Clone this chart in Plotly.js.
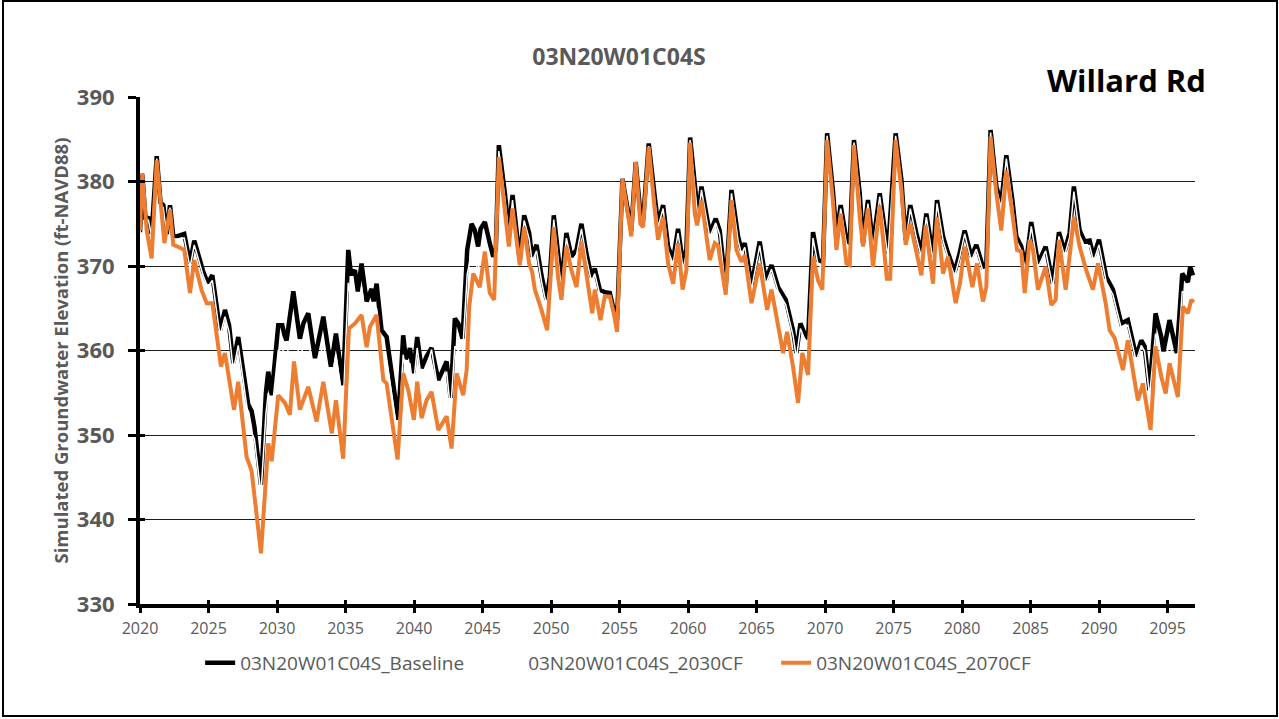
<!DOCTYPE html>
<html>
<head>
<meta charset="utf-8">
<script src="https://cdn.plot.ly/plotly-3.0.1.min.js"></script>
<style>
  html, body { margin: 0; padding: 0; background: #fff; overflow: hidden; }
  #wrap { position: relative; width: 1279px; height: 719px; }
  #chart { width: 1279px; height: 719px; }
  #frame { position: absolute; left: 2px; top: 0px; width: 1276px; height: 717px; border: 2px solid #000; box-sizing: border-box; pointer-events: none; }
</style>
</head>
<body>
<div id="wrap"><div id="chart"></div><div id="frame"></div></div>
<script>
// ---- Data ----
const seriesNames = ["03N20W01C04S_Baseline", "03N20W01C04S_2030CF", "03N20W01C04S_2070CF"];

const baseYears = [2020.00,2020.17,2020.40,2020.61,2020.85,2021.22,2021.50,2021.70,2021.95,2022.19,2022.43,2022.68,2023.23,2023.65,2023.96,2024.30,2024.62,2024.94,2025.28,2025.84,2026.20,2026.50,2026.81,2027.17,2027.90,2028.15,2028.35,2028.83,2029.19,2029.36,2029.61,2030.09,2030.38,2030.55,2030.70,2031.19,2031.67,2031.92,2032.28,2032.77,2033.38,2033.93,2034.30,2034.83,2035.20,2035.40,2035.69,2035.90,2036.17,2036.54,2036.90,2037.05,2037.27,2037.63,2038.00,2038.85,2039.21,2039.40,2039.58,2039.70,2039.94,2040.23,2040.55,2040.91,2041.28,2041.77,2042.13,2042.38,2042.67,2042.98,2043.23,2043.54,2043.88,2044.20,2044.44,2044.68,2044.86,2045.17,2045.53,2045.78,2045.97,2046.19,2046.63,2046.92,2047.19,2047.48,2047.72,2048.04,2048.40,2048.62,2048.94,2049.30,2049.67,2049.91,2050.20,2050.51,2050.76,2051.12,2051.49,2051.86,2052.22,2052.58,2052.95,2053.19,2053.56,2053.92,2054.29,2054.58,2054.82,2055.21,2055.62,2055.86,2056.18,2056.52,2056.72,2057.13,2057.57,2057.81,2058.18,2058.54,2058.91,2059.27,2059.64,2059.88,2060.15,2060.56,2060.73,2060.98,2061.58,2062.02,2062.31,2062.75,2063.17,2063.65,2063.90,2064.14,2064.63,2065.23,2065.67,2066.09,2066.57,2067.13,2067.66,2067.91,2068.20,2068.50,2068.76,2069.12,2069.49,2069.85,2070.15,2070.58,2070.83,2071.14,2071.56,2071.80,2072.11,2072.53,2072.77,2073.13,2073.50,2073.99,2074.59,2075.15,2075.57,2075.88,2076.22,2076.66,2077.03,2077.39,2077.88,2078.17,2078.61,2078.90,2079.46,2079.82,2080.19,2080.67,2081.04,2081.52,2081.77,2082.08,2082.50,2082.86,2083.23,2083.67,2083.96,2084.32,2084.64,2085.05,2085.54,2086.10,2086.63,2087.07,2087.48,2087.85,2088.16,2088.58,2088.94,2089.31,2089.60,2089.99,2090.52,2091.01,2091.62,2092.10,2092.71,2093.08,2093.32,2093.68,2094.12,2094.54,2094.70,2095.14,2095.67,2096.07,2096.48,2096.65,2096.85];

const baselineValues = [374.0,380.8,375.5,375.8,373.8,383.0,377.5,377.2,373.8,377.2,373.5,373.5,373.8,370.3,373.0,371.0,369.3,368.0,368.9,362.4,364.8,363.0,358.5,361.6,353.6,352.8,351.0,344.1,355.0,357.5,354.7,363.0,363.0,361.8,361.2,367.0,361.4,363.2,364.4,359.1,364.0,358.1,362.0,355.9,371.9,369.0,369.5,367.0,370.3,365.8,367.3,365.8,367.9,362.4,361.6,351.8,361.8,359.0,359.5,360.3,357.3,361.6,357.9,359.3,360.3,356.5,357.7,358.7,354.4,363.8,363.2,361.4,371.9,375.0,374.2,372.3,374.4,375.2,372.7,371.1,372.0,384.3,378.6,374.2,378.4,373.5,370.7,376.0,373.9,371.1,372.5,368.9,366.0,368.7,376.0,371.5,367.9,373.9,371.1,371.9,375.0,371.5,368.7,369.7,367.2,366.9,366.8,364.8,363.6,380.3,376.6,374.2,382.3,376.2,375.4,384.5,378.2,375.0,377.2,372.3,370.7,374.4,370.1,372.0,385.2,378.6,375.8,379.4,373.9,375.6,374.2,367.5,379.0,373.5,371.9,372.7,367.7,372.9,368.3,370.1,367.5,366.0,362.4,359.7,363.2,362.0,361.4,374.0,370.7,370.5,385.7,378.8,373.5,377.2,373.1,372.7,384.9,378.6,372.7,377.8,372.5,378.6,371.5,385.7,380.2,373.1,377.2,373.9,371.5,376.2,371.1,377.8,373.5,371.9,369.3,371.5,374.2,371.1,372.5,369.9,370.0,386.1,379.4,377.4,383.1,377.8,373.5,372.3,369.9,375.2,370.3,372.3,367.9,374.0,371.7,373.9,379.4,374.2,372.9,373.0,371.1,373.1,368.7,367.2,363.2,363.6,359.3,361.2,360.5,355.3,364.4,361.6,359.9,363.6,359.7,369.1,368.1,369.9,368.9];

const cf2030Values = [373.7,380.5,375.2,375.5,373.5,382.7,377.2,376.9,373.5,376.9,373.2,373.2,373.3,369.8,372.5,370.5,368.8,367.5,368.3,361.7,364.0,362.2,357.6,360.6,352.2,350.3,349.5,343.0,352.5,355.0,352.5,360.0,360.2,359.6,359.4,362.5,359.2,360.4,361.0,357.0,360.8,356.0,359.5,353.5,368.0,366.0,366.5,364.5,367.5,363.0,364.5,363.2,365.0,359.5,358.8,349.5,359.5,357.5,358.0,358.5,355.5,360.3,356.5,358.0,360.1,355.0,356.3,357.5,352.8,360.5,360.0,359.5,369.0,371.5,370.5,369.5,371.0,372.5,370.5,369.5,370.0,383.6,378.0,373.5,377.8,372.8,370.2,375.4,373.2,370.5,371.8,368.2,365.3,368.0,375.5,370.8,367.2,373.3,370.5,371.3,374.4,370.9,368.1,369.1,366.6,366.4,366.3,364.3,363.1,380.0,376.2,373.8,382.0,375.8,375.0,384.2,377.8,374.6,376.8,371.8,370.2,373.9,369.6,371.5,384.9,378.2,375.4,379.0,373.4,375.1,373.7,367.0,378.6,373.0,371.4,372.2,367.2,372.4,367.8,369.6,367.0,365.4,361.8,359.1,362.6,361.4,360.8,373.3,370.1,369.9,385.4,378.4,373.0,376.8,372.6,372.2,384.6,378.2,372.2,377.4,372.0,378.2,371.0,385.4,379.8,372.6,376.8,373.4,371.0,375.8,370.6,377.4,373.0,371.4,368.8,371.0,373.8,370.6,372.0,369.4,369.5,385.8,379.0,376.9,382.7,377.3,373.0,371.8,369.4,374.7,369.8,371.8,367.4,373.5,371.2,373.4,378.8,373.6,372.3,372.4,370.5,372.5,368.1,366.6,362.6,363.0,358.7,360.6,359.9,354.6,362.0,359.5,358.0,361.0,357.5,367.0,366.5,368.0,367.5];

const cf2070Years = [2020.00,2020.17,2020.49,2020.85,2021.22,2021.78,2022.19,2022.43,2022.75,2023.23,2023.65,2023.96,2024.50,2024.87,2025.28,2025.91,2026.20,2026.86,2027.17,2027.78,2028.03,2028.15,2028.83,2029.07,2029.36,2029.61,2030.09,2030.58,2030.94,2031.24,2031.67,2032.28,2032.89,2033.38,2034.00,2034.30,2034.83,2035.25,2035.69,2036.17,2036.54,2036.78,2037.27,2037.76,2038.00,2038.80,2039.21,2039.58,2039.99,2040.23,2040.55,2040.91,2041.28,2041.77,2042.13,2042.38,2042.74,2043.11,2043.59,2043.84,2044.03,2044.32,2044.80,2045.17,2045.53,2045.85,2046.19,2046.63,2046.92,2047.19,2047.72,2048.04,2048.40,2048.62,2048.82,2049.30,2049.72,2050.20,2050.51,2050.76,2051.12,2051.49,2051.86,2052.22,2052.58,2053.01,2053.19,2053.61,2053.92,2054.29,2054.58,2054.82,2055.21,2055.62,2055.86,2056.18,2056.52,2056.72,2057.13,2057.57,2057.81,2058.18,2058.54,2058.91,2059.27,2059.60,2059.88,2060.15,2060.49,2060.66,2060.98,2061.58,2061.95,2062.19,2062.75,2063.17,2063.53,2063.90,2064.14,2064.63,2065.23,2065.77,2066.09,2066.94,2067.23,2067.66,2068.03,2068.34,2068.76,2069.12,2069.49,2069.80,2070.15,2070.58,2070.83,2071.14,2071.56,2071.80,2072.11,2072.53,2072.77,2073.13,2073.50,2073.99,2074.51,2074.75,2075.15,2075.57,2075.88,2076.22,2076.66,2077.03,2077.34,2077.88,2078.17,2078.61,2078.97,2079.53,2079.85,2080.19,2080.75,2081.09,2081.52,2081.77,2082.08,2082.50,2082.86,2083.23,2083.67,2084.01,2084.32,2084.57,2084.93,2085.17,2085.54,2086.10,2086.51,2086.83,2087.07,2087.56,2087.90,2088.16,2088.58,2089.06,2089.55,2089.92,2090.48,2090.77,2091.13,2091.74,2092.10,2092.83,2093.20,2093.76,2094.12,2094.54,2094.86,2095.14,2095.75,2096.12,2096.48,2096.73,2096.90];

const cf2070Values = [374.2,381.0,374.2,370.9,382.5,372.7,376.7,372.5,372.3,371.9,366.8,370.7,367.1,365.6,365.6,358.1,359.7,353.0,356.3,347.4,346.3,345.7,336.0,342.7,349.0,346.9,354.7,353.8,352.4,358.7,353.0,355.7,351.6,356.3,350.2,354.1,347.2,362.6,363.2,364.2,360.4,362.8,364.2,356.5,356.1,347.1,357.3,355.3,351.8,356.3,352.0,354.1,355.1,350.6,351.6,352.2,348.4,357.3,354.7,357.7,365.2,369.1,367.5,371.7,366.8,366.0,382.9,376.6,372.3,376.8,370.1,374.6,370.3,369.3,367.2,364.8,362.4,374.6,368.7,366.0,372.3,369.5,367.5,372.9,368.7,364.4,367.2,363.6,366.4,366.4,364.4,362.2,380.3,375.8,373.5,382.3,375.0,374.6,384.1,376.6,373.1,375.8,370.3,367.9,372.7,367.2,369.5,384.6,376.2,374.8,377.8,370.7,372.7,372.4,366.6,377.8,371.9,370.5,371.3,365.6,370.3,364.8,367.2,359.7,362.2,358.1,353.8,359.7,357.1,371.1,368.3,367.2,384.9,377.6,371.9,376.2,370.3,370.1,384.3,375.8,372.3,376.8,369.9,377.2,368.5,368.5,384.9,379.0,372.5,375.0,371.9,368.9,374.8,367.9,375.8,369.1,371.1,365.6,368.0,372.3,367.5,370.3,365.8,367.5,385.3,378.6,374.2,381.3,376.2,371.9,371.7,366.8,373.1,372.0,367.2,369.9,365.4,366.0,373.1,367.2,371.9,375.8,372.3,369.5,367.2,370.3,365.6,362.4,361.5,357.7,361.2,354.1,356.1,350.6,360.5,356.9,354.9,358.5,354.5,365.2,364.4,366.0,365.7];

const xTickVals = [2020,2025,2030,2035,2040,2045,2050,2055,2060,2065,2070,2075,2080,2085,2090,2095];
const yTickVals = [330,340,350,360,370,380,390];

// ---- Chart ----
const FONT = "'Open Sans', 'Liberation Sans', sans-serif";
const GRAY = "#595959";

const traces = [
  { x: baseYears, y: baselineValues, name: seriesNames[0], type: "scatter", mode: "lines",
    line: { color: "#000000", width: 4.5 }, hoverinfo: "skip" },
  { x: baseYears, y: cf2030Values, name: seriesNames[1], type: "scatter", mode: "lines",
    line: { color: "#ffffff", width: 1.5 }, hoverinfo: "skip" },
  { x: cf2070Years, y: cf2070Values, name: seriesNames[2], type: "scatter", mode: "lines",
    line: { color: "#ED7D31", width: 4 }, hoverinfo: "skip" },
  { x: [], y: [], xaxis: "x2", yaxis: "y2", showlegend: false, hoverinfo: "skip", type: "scatter", mode: "lines" }
];

const layout = {
  width: 1279, height: 719,
  paper_bgcolor: "#ffffff", plot_bgcolor: "#ffffff",
  margin: { l: 140, r: 84, t: 97, b: 115, pad: 0 },
  showlegend: true,
  title: { text: "03N20W01C04S", xref: "paper", x: 0.454, xanchor: "center", yref: "container", y: 0.921, yanchor: "middle",
           font: { family: FONT, size: 23, color: GRAY, weight: 700 } },
  xaxis: {
    range: [2020, 2097], tickmode: "array", tickvals: xTickVals, ticktext: xTickVals.map(String),
    showgrid: false, zeroline: false,
    showline: true, linecolor: "#000000", linewidth: 4,
    ticks: "outside", ticklen: 5, tickwidth: 3, tickcolor: "#000000",
    tickfont: { family: FONT, size: 16, color: GRAY }, ticklabelstandoff: 2
  },
  yaxis: {
    range: [330, 390], tickmode: "array", tickvals: yTickVals,
    showgrid: true, gridcolor: "#1e1e1e", gridwidth: 1, zeroline: false,
    showline: true, linecolor: "#000000", linewidth: 4,
    ticks: "outside", ticklen: 8, tickwidth: 3, tickcolor: "#000000",
    tickfont: { family: FONT, size: 22, color: GRAY, weight: 700 }, ticklabelstandoff: 9
  },
  xaxis2: { overlaying: "x", range: [2020, 2097], tickmode: "array", tickvals: xTickVals, ticks: "inside", ticklen: 4, tickwidth: 3,
            tickcolor: "#000000", showticklabels: false, showgrid: false, zeroline: false, showline: false, anchor: "y" },
  yaxis2: { overlaying: "y", range: [330, 390], tickmode: "array", tickvals: yTickVals, ticks: "inside", ticklen: 5, tickwidth: 3,
            tickcolor: "#000000", showticklabels: false, showgrid: false, zeroline: false, showline: false, anchor: "x" },
  legend: { orientation: "h", x: 0.057, xanchor: "left", y: -0.1164, yanchor: "middle",
            font: { family: FONT, size: 19, color: GRAY }, bgcolor: "rgba(0,0,0,0)", itemwidth: 30, traceorder: "normal",
            entrywidth: 243, entrywidthmode: "pixels" },
  annotations: [
    { text: "Willard Rd", xref: "paper", yref: "paper", x: 1.012, xanchor: "right", y: 1.0335, yanchor: "middle",
      showarrow: false, font: { family: FONT, size: 31, color: "#000000", weight: 700 } },
    { text: "Simulated Groundwater Elevation (ft-NAVD88)", xref: "paper", yref: "paper", x: -0.0758, xanchor: "center",
      y: 0.5, yanchor: "middle", textangle: -90, showarrow: false,
      font: { family: FONT, size: 18.5, color: GRAY, weight: 700 } }
  ]
};

Plotly.newPlot("chart", traces, layout, { staticPlot: true, displayModeBar: false });
</script>
</body>
</html>
